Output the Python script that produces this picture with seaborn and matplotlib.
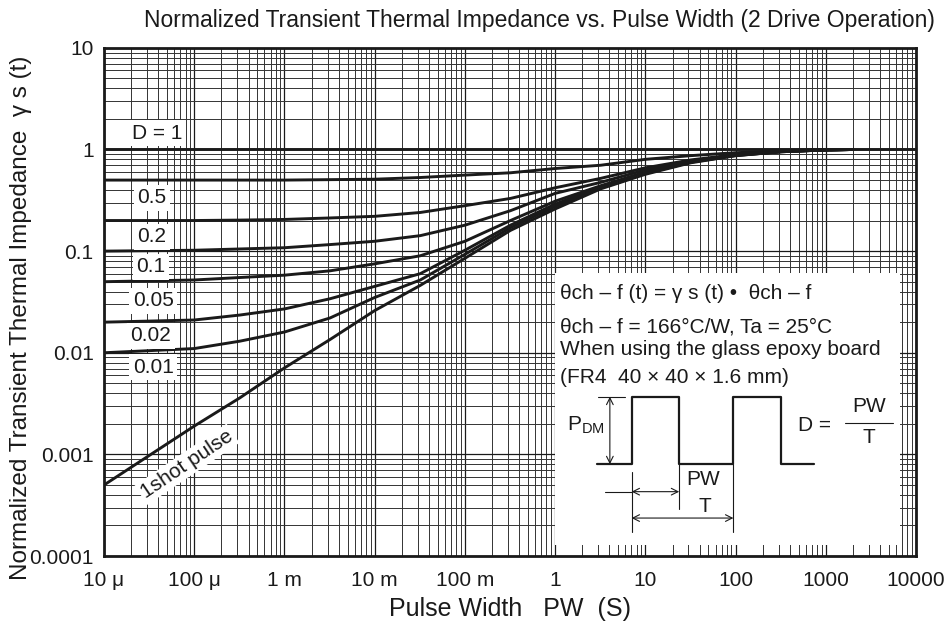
import numpy as np
import pandas as pd
import matplotlib
matplotlib.use("Agg")
import matplotlib.pyplot as plt
from matplotlib.ticker import FixedLocator, LogLocator, NullFormatter
import seaborn as sns

# pulse width (s) sample points
pulse_width = [1e-5, 1e-4, 3.2e-4, 1e-3, 3.2e-3, 1e-2, 3.2e-2, 0.1, 0.32, 1,
               3.2, 10, 32, 100, 320, 1000, 2000]

# normalized transient thermal impedance per duty
r_d05 = [0.5, 0.5, 0.5, 0.5, 0.505, 0.51, 0.53, 0.56, 0.59, 0.65, 0.70, 0.80,
         0.87, 0.93, 0.97, 0.995, 1.0]
r_d02 = [0.2, 0.2, 0.202, 0.205, 0.212, 0.22, 0.24, 0.28, 0.33, 0.42, 0.52, 0.66,
         0.79, 0.89, 0.96, 0.99, 1.0]
r_d01 = [0.1, 0.102, 0.105, 0.108, 0.116, 0.125, 0.142, 0.18, 0.25, 0.37, 0.475,
         0.63, 0.77, 0.885, 0.955, 0.99, 1.0]
r_d005 = [0.05, 0.052, 0.055, 0.058, 0.064, 0.075, 0.09, 0.125, 0.20, 0.31, 0.44,
          0.60, 0.76, 0.88, 0.955, 0.99, 1.0]
r_d002 = [0.02, 0.021, 0.0235, 0.027, 0.034, 0.045, 0.06, 0.102, 0.18, 0.29, 0.43,
          0.59, 0.755, 0.875, 0.95, 0.99, 1.0]
r_d001 = [0.01, 0.011, 0.013, 0.016, 0.022, 0.035, 0.052, 0.093, 0.17, 0.275, 0.42,
          0.58, 0.75, 0.87, 0.95, 0.99, 1.0]
r_1shot = [0.0005, 0.0019, 0.0036, 0.0071, 0.0135, 0.026, 0.046, 0.085, 0.16, 0.26,
           0.41, 0.57, 0.74, 0.87, 0.95, 0.99, 1.0]

# D = 1 is flat over the whole range
pw_d1 = [1e-5, 1e4]
r_d1 = [1.0, 1.0]

x_ticks = [1e-5, 1e-4, 1e-3, 1e-2, 1e-1, 1, 10, 100, 1000, 10000]
x_tick_labels = ["10 μ", "100 μ", "1 m", "10 m", "100 m", "1", "10", "100", "1000", "10000"]
y_ticks = [1e-4, 1e-3, 1e-2, 1e-1, 1, 10]
y_tick_labels = ["0.0001", "0.001", "0.01", "0.1", "1", "10"]

curve_labels = ["D = 1", "0.5", "0.2", "0.1", "0.05", "0.02", "0.01"]
label_x = [3.9e-5, 3.4e-5, 3.4e-5, 3.3e-5, 3.5e-5, 3.3e-5, 3.5e-5]
label_y = [1.44, 0.336, 0.139, 0.070, 0.0324, 0.0147, 0.0072]

INK = "#1a1a1a"

sns.set_theme(style="white")
plt.rcParams["font.family"] = ["Liberation Sans", "DejaVu Sans"]


def build_frame():
    series = {
        "D=0.5": r_d05, "D=0.2": r_d02, "D=0.1": r_d01, "D=0.05": r_d005,
        "D=0.02": r_d002, "D=0.01": r_d001, "1shot": r_1shot,
    }
    rows = []
    for name, vals in series.items():
        for pw, r in zip(pulse_width, vals):
            rows.append({"curve": name, "pw": pw, "r": r})
    for pw, r in zip(pw_d1, r_d1):
        rows.append({"curve": "D=1", "pw": pw, "r": r})
    return pd.DataFrame(rows)


def arrow(ax, start, end):
    ax.annotate("", xy=end, xytext=start,
                arrowprops=dict(arrowstyle="<->", lw=0.8, color=INK,
                                shrinkA=0, shrinkB=0))


def draw_inset(fig):
    # white note box with the formula and the pulse sketch
    ins = fig.add_axes([0.5836, 0.1322, 0.3628, 0.4331])
    ins.set_xlim(0, 1)
    ins.set_ylim(0, 1)
    ins.axis("off")
    ins.add_patch(plt.Rectangle((0, 0), 1, 1, color="white", zorder=0))
    fs = 15
    ins.text(0.015, 0.926, "θch – f (t) = γ s (t) •  θch – f", fontsize=fs, va="center", color=INK)
    ins.text(0.015, 0.80, "θch – f = 166°C/W, Ta = 25°C", fontsize=fs, va="center", color=INK)
    ins.text(0.015, 0.717, "When using the glass epoxy board", fontsize=fs, va="center", color=INK)
    ins.text(0.015, 0.614, "(FR4  40 × 40 × 1.6 mm)", fontsize=fs, va="center", color=INK)

    lo, hi = 0.297, 0.545
    wx = [0.121, 0.222, 0.222, 0.360, 0.360, 0.517, 0.517, 0.654, 0.654, 0.751]
    wy = [lo, lo, hi, hi, lo, lo, hi, hi, lo, lo]
    ins.plot(wx, wy, color=INK, lw=1.6)
    ins.plot([0.126, 0.203], [hi, hi], color=INK, lw=0.8)
    arrow(ins, (0.159, lo), (0.159, hi))
    ins.text(0.035, 0.441, "P$_{\\mathregular{DM}}$", fontsize=fs, va="center", color=INK)

    ins.plot([0.222, 0.222], [0.270, 0.049], color=INK, lw=0.8)
    ins.plot([0.360, 0.360], [0.297, 0.131], color=INK, lw=0.8)
    ins.plot([0.517, 0.517], [0.297, 0.049], color=INK, lw=0.8)
    ins.plot([0.145, 0.222], [0.196, 0.196], color=INK, lw=0.8)
    arrow(ins, (0.360, 0.196), (0.222, 0.196))
    arrow(ins, (0.517, 0.099), (0.222, 0.099))
    ins.text(0.429, 0.239, "PW", fontsize=fs, ha="center", va="center", color=INK)
    ins.text(0.435, 0.141, "T", fontsize=fs, ha="center", va="center", color=INK)

    ins.text(0.705, 0.44, "D =", fontsize=fs, ha="left", va="center", color=INK)
    ins.plot([0.841, 0.98], [0.45, 0.45], color=INK, lw=0.8)
    ins.text(0.91, 0.475, "PW", fontsize=fs, ha="center", va="bottom", color=INK)
    ins.text(0.91, 0.43, "T", fontsize=fs, ha="center", va="top", color=INK)


def main():
    df = build_frame()

    fig = plt.figure(figsize=(9.51, 6.28), dpi=100)
    ax = fig.add_axes([0.1094, 0.1146, 0.8538, 0.8092])

    sns.lineplot(data=df, x="pw", y="r", units="curve", estimator=None,
                 sort=False, color=INK, lw=2.1, ax=ax, zorder=5)

    ax.set_xscale("log")
    ax.set_yscale("log")
    ax.set_xlim(1e-5, 1e4)
    ax.set_ylim(1e-4, 10)

    ax.xaxis.set_major_locator(FixedLocator(x_ticks))
    ax.set_xticklabels(x_tick_labels)
    ax.yaxis.set_major_locator(FixedLocator(y_ticks))
    ax.set_yticklabels(y_tick_labels)
    ax.xaxis.set_minor_locator(LogLocator(base=10, subs=np.arange(2, 10), numticks=20))
    ax.yaxis.set_minor_locator(LogLocator(base=10, subs=np.arange(2, 10), numticks=20))
    ax.xaxis.set_minor_formatter(NullFormatter())
    ax.yaxis.set_minor_formatter(NullFormatter())
    ax.tick_params(which="both", length=0, labelsize=15, colors=INK)
    ax.tick_params(axis="x", pad=11)
    ax.tick_params(axis="y", pad=7.5)

    ax.grid(True, which="major", color=INK, lw=0.9)
    ax.grid(True, which="minor", color="#333333", lw=0.7)
    for side in ax.spines.values():
        side.set_color(INK)
        side.set_linewidth(2.0)
        side.set_visible(True)

    ax.set_xlabel("Pulse Width   PW  (S)", fontsize=18, color=INK, labelpad=5)
    ax.set_ylabel("Normalized Transient Thermal Impedance  γ s (t)", fontsize=17.5, color=INK)
    ax.yaxis.set_label_coords(-0.0885, 0.468)

    for text, xv, yv in zip(curve_labels, label_x, label_y):
        ax.text(xv, yv, text, fontsize=15, ha="center", va="center",
                color=INK, zorder=6,
                bbox=dict(facecolor="white", edgecolor="none", pad=2.5))
    ax.text(8.3e-5, 0.0008, "1shot pulse", fontsize=15, ha="center", va="center",
            rotation=34, color=INK, zorder=6,
            bbox=dict(facecolor="white", edgecolor="none", pad=1.5))

    fig.text(0.567, 0.968, "Normalized Transient Thermal Impedance vs. Pulse Width (2 Drive Operation)",
             fontsize=16.5, ha="center", va="center", color=INK)

    draw_inset(fig)

    fig.savefig("out.png", dpi=100, facecolor="white")
    plt.close(fig)


if __name__ == "__main__":
    main()
